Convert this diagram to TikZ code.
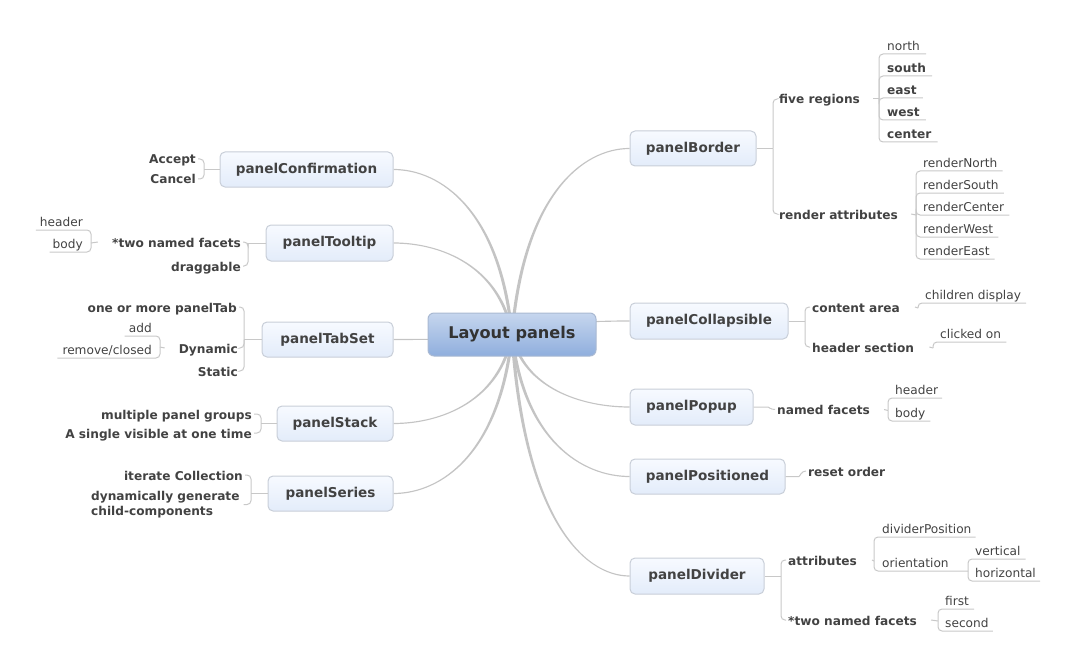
\documentclass[tikz,border=0pt]{standalone}
\usepackage{fontspec}
\setmainfont{DejaVu Sans}
\usetikzlibrary{calc}
\definecolor{txt}{HTML}{424242}
\definecolor{ctxt}{HTML}{333333}
\definecolor{linecol}{HTML}{C8C8C8}
\definecolor{brcol}{HTML}{C4C4C4}
\definecolor{boxtop}{HTML}{F7FAFF}
\definecolor{boxbot}{HTML}{E3ECFA}
\definecolor{boxline}{HTML}{C8CED8}
\definecolor{ctop}{HTML}{C6D6EE}
\definecolor{cbot}{HTML}{8FAEDD}
\definecolor{cline}{HTML}{A9B9D2}
\pgfdeclarelayer{bg}
\pgfsetlayers{bg,main}
\tikzset{
  topic/.style={draw=boxline, line width=1bp, rounded corners=5bp, top color=boxtop, bottom color=boxbot, minimum height=35bp, inner sep=0pt, text=txt, font=\fontsize{13.6}{15}\selectfont\bfseries},
  central/.style={draw=cline, line width=1bp, rounded corners=6bp, top color=ctop, bottom color=cbot, minimum width=168bp, minimum height=43bp, inner sep=0pt, text=ctxt, font=\fontsize{16.2}{19}\selectfont\bfseries},
  sub/.style={inner sep=0pt, text height=10bp, text depth=0bp, text=txt, font=\fontsize{12.2}{15}\selectfont\bfseries},
  multi/.style={inner sep=0pt, align=left, text=txt, font=\fontsize{12.2}{15}\selectfont\bfseries},
  leaf/.style={inner sep=0pt, text height=9bp, text depth=3.5bp, text=txt, font=\fontsize{12.2}{15}\selectfont},
  bleaf/.style={leaf, font=\fontsize{12.2}{15}\selectfont\bfseries},
  conn/.style={draw=linecol, line width=1bp, rounded corners=4bp},
}
% tapered main branch: from #1 to #2, #3 = +1/-1 pairing sign
\newcommand\mainbranch[3]{%
  \begin{pgfonlayer}{bg}
  \fill[brcol] let \p1=(#1), \p2=(#2) in
    (\x1-1.6pt,\y1) .. controls ({\x1+0.1*(\x2-\x1)-1.6pt},{\y1+0.75*(\y2-\y1)}) and ({\x2-0.4*(\x2-\x1)},{\y2+(#3)*0.6pt}) .. (\x2,{\y2+(#3)*0.6pt})
    -- (\x2,{\y2-(#3)*0.6pt}) .. controls ({\x2-0.4*(\x2-\x1)},{\y2-(#3)*0.6pt}) and ({\x1+0.1*(\x2-\x1)+1.6pt},{\y1+0.75*(\y2-\y1)}) .. (\x1+1.6pt,\y1) -- cycle;
  \end{pgfonlayer}%
}
\begin{document}
\begin{tikzpicture}[x=1bp,y=-1bp]
\useasboundingbox (0,0) rectangle (1079,670);

% ---------- main nodes ----------
\node[central] (C) at (512,334.5) {Layout panels};
\node[topic, minimum width=126bp] (B1) at (693,148.5) {panelBorder};
\node[topic, minimum width=158bp, minimum height=36bp] (B2) at (709,321) {panelCollapsible};
\node[topic, minimum width=123bp, minimum height=36bp] (B3) at (691.5,407) {panelPopup};
\node[topic, minimum width=155bp] (B4) at (707.5,476.5) {panelPositioned};
\node[topic, minimum width=134bp, minimum height=36bp] (B5) at (697,576) {panelDivider};
\node[topic, minimum width=173bp] (L1) at (306.5,169.5) {panelConfirmation};
\node[topic, minimum width=127bp, minimum height=36bp] (L2) at (329.5,243) {panelTooltip};
\node[topic, minimum width=131bp] (L3) at (327.5,339.5) {panelTabSet};
\node[topic, minimum width=116bp] (L4) at (335,423.5) {panelStack};
\node[topic, minimum width=125bp] (L5) at (330.5,493.5) {panelSeries};

% ---------- main branches ----------
\mainbranch{C.center}{B1.west}{1}
\mainbranch{C.center}{B2.west}{1}
\mainbranch{C.center}{B3.west}{-1}
\mainbranch{C.center}{B4.west}{-1}
\mainbranch{C.center}{B5.west}{-1}
\mainbranch{C.center}{L1.east}{-1}
\mainbranch{C.center}{L2.east}{-1}
\mainbranch{C.center}{L3.east}{1}
\mainbranch{C.center}{L4.east}{1}
\mainbranch{C.center}{L5.east}{1}

% ---------- panelBorder ----------
\coordinate (J1) at (773,148.5);
\node[sub, anchor=west] (s11) at (779,99) {five regions};
\node[sub, anchor=west] (s12) at (779,214) {render attributes};
\draw[conn] (B1.east) -- (J1);
\draw[conn] (J1) |- ([xshift=-2bp]s11.west);
\draw[conn] (J1) |- ([xshift=-2bp]s12.west);

\coordinate (J11) at (879,99);
\draw[conn] ([xshift=13bp]s11.east) -- (J11);
\node[leaf, anchor=south west] (n1) at (887,54) {north};
\node[bleaf, anchor=south west] (n2) at (887,76) {south};
\node[bleaf, anchor=south west] (n3) at (887,98) {east};
\node[bleaf, anchor=south west] (n4) at (887,120) {west};
\node[bleaf, anchor=south west] (n5) at (887,142) {center};
\foreach \n in {n1,n2,n3,n4,n5} \draw[conn] (J11) |- ([xshift=6bp]\n.south east);

\coordinate (J12) at (916,215);
\draw[conn] ([xshift=13bp]s12.east) -- (J12);
\node[leaf, anchor=south west] (r1) at (923,171) {renderNorth};
\node[leaf, anchor=south west] (r2) at (923,193) {renderSouth};
\node[leaf, anchor=south west] (r3) at (923,215) {renderCenter};
\node[leaf, anchor=south west] (r4) at (923,237) {renderWest};
\node[leaf, anchor=south west] (r5) at (923,259) {renderEast};
\foreach \n in {r1,r2,r3,r4,r5} \draw[conn] (J12) |- ([xshift=5bp]\n.south east);

% ---------- panelCollapsible ----------
\coordinate (J2) at (805,321);
\node[sub, anchor=west] (s21) at (812,307) {content area};
\node[sub, anchor=west] (s22) at (812,347) {header section};
\draw[conn] (B2.east) -- (J2);
\draw[conn] (J2) |- ([xshift=-2bp]s21.west);
\draw[conn] (J2) |- ([xshift=-2bp]s22.west);
\coordinate (J21) at (918,308);
\node[leaf, anchor=south west] (cd) at (925,303) {children display};
\draw[conn] ([xshift=15bp]s21.east) -- (J21);
\draw[conn] (J21) |- ([xshift=5bp]cd.south east);
\coordinate (J22) at (933,348);
\node[leaf, anchor=south west] (co) at (940,342) {clicked on};
\draw[conn] ([xshift=15bp]s22.east) -- (J22);
\draw[conn] (J22) |- ([xshift=5bp]co.south east);

% ---------- panelPopup ----------
\coordinate (J3) at (764,407);
\node[sub, anchor=west] (s31) at (777,409.5) {named facets};
\draw[conn] (B3.east) -- (J3) to[out=0,in=180] ([xshift=-2bp]s31.west);
\coordinate (J31) at (888,410.5);
\draw[conn] ([xshift=14bp]s31.east) -- (J31);
\node[leaf, anchor=south west] (ph) at (895,398) {header};
\node[leaf, anchor=south west] (pb) at (895,421) {body};
\draw[conn] (J31) |- ([xshift=4bp]ph.south east);
\draw[conn] (J31) |- ([xshift=5bp]pb.south east);

% ---------- panelPositioned ----------
\coordinate (J4) at (795,476.5);
\node[sub, anchor=west] (s41) at (808,471) {reset order};
\draw[conn] (B4.east) -- (J4) to[out=0,in=180] ([xshift=-2bp]s41.west);

% ---------- panelDivider ----------
\coordinate (J5) at (781,576);
\node[sub, anchor=west] (s51) at (788,560) {attributes};
\node[sub, anchor=west] (s52) at (788,620) {*two named facets};
\draw[conn] (B5.east) -- (J5);
\draw[conn] (J5) |- ([xshift=-2bp]s51.west);
\draw[conn] (J5) |- ([xshift=-2bp]s52.west);

\coordinate (J51) at (874,561);
\draw[conn] ([xshift=15bp]s51.east) -- (J51);
\node[leaf, anchor=south west] (dp) at (882,537) {dividerPosition};
\node[leaf, anchor=south west] (or) at (882,571) {orientation};
\coordinate (J511) at (968,571);
\draw[conn] (J51) |- ([xshift=4bp]dp.south east);
\draw[conn] (J51) |- (J511);
\node[leaf, anchor=south west] (ov) at (975,559) {vertical};
\node[leaf, anchor=south west] (oh) at (975,581) {horizontal};
\draw[conn] (J511) |- ([xshift=5bp]ov.south east);
\draw[conn] (J511) |- ([xshift=4bp]oh.south east);

\coordinate (J52) at (938,621);
\draw[conn] ([xshift=14bp]s52.east) -- (J52);
\node[leaf, anchor=south west] (f1) at (945,609) {first};
\node[leaf, anchor=south west] (f2) at (945,631) {second};
\draw[conn] (J52) |- ([xshift=5bp]f1.south east);
\draw[conn] (J52) |- ([xshift=4bp]f2.south east);

% ---------- panelConfirmation ----------
\coordinate (K1) at (204,169.5);
\node[sub, anchor=east] (a1) at (196,159) {Accept};
\node[sub, anchor=east] (a2) at (196,179) {Cancel};
\draw[conn] (L1.west) -- (K1);
\draw[conn] (K1) |- ([xshift=2bp]a1.east);
\draw[conn] (K1) |- ([xshift=2bp]a2.east);

% ---------- panelTooltip ----------
\coordinate (K2) at (248,243);
\node[sub, anchor=east] (t1) at (241,242) {*two named facets};
\node[sub, anchor=east] (t2) at (241,266) {draggable};
\draw[conn] (L2.west) -- (K2);
\draw[conn] (K2) |- ([xshift=2bp]t1.east);
\draw[conn] (K2) |- ([xshift=2bp]t2.east);
\coordinate (K21) at (91,243);
\draw[conn] ([xshift=-14bp]t1.west) -- (K21);
\node[leaf, anchor=south east] (th) at (83,230) {header};
\node[leaf, anchor=south east] (tb) at (83,252) {body};
\draw[conn] (K21) |- ([xshift=-4bp]th.south west);
\draw[conn] (K21) |- ([xshift=-3bp]tb.south west);

% ---------- panelTabSet ----------
\coordinate (K3) at (244,339.5);
\node[sub, anchor=east] (u1) at (237,307) {one or more panelTab};
\node[sub, anchor=east] (u2) at (238,348) {Dynamic};
\node[sub, anchor=east] (u3) at (238,371) {Static};
\draw[conn] (L3.west) -- (K3);
\draw[conn] (K3) |- ([xshift=2bp]u1.east);
\draw[conn] (K3) |- ([xshift=2bp]u2.east);
\draw[conn] (K3) |- ([xshift=2bp]u3.east);
\coordinate (K31) at (160,347);
\draw[conn] ([xshift=-14bp]u2.west) -- (K31);
\node[leaf, anchor=south east] (ua) at (152,336) {add};
\node[leaf, anchor=south east] (ur) at (152,358) {remove/closed};
\draw[conn] (K31) |- ([xshift=-4bp]ua.south west);
\draw[conn] (K31) |- ([xshift=-5bp]ur.south west);

% ---------- panelStack ----------
\coordinate (K4) at (261,423.5);
\node[sub, anchor=east] (v1) at (252,414) {multiple panel groups};
\node[sub, anchor=east] (v2) at (252,433) {A single visible at one time};
\draw[conn] (L4.west) -- (K4);
\draw[conn] (K4) |- ([xshift=2bp]v1.east);
\draw[conn] (K4) |- ([xshift=2bp]v2.east);

% ---------- panelSeries ----------
\coordinate (K5) at (251,493.5);
\node[sub, anchor=east] (w1) at (243,475) {iterate Collection};
\node[multi, anchor=north west] (w2) at (91,491) {dynamically generate\\child-components};
\draw[conn] (L5.west) -- (K5);
\draw[conn] (K5) |- ([xshift=2bp]w1.east);
\draw[conn] (K5) |- ([xshift=4bp]w2.east);
\end{tikzpicture}
\end{document}
